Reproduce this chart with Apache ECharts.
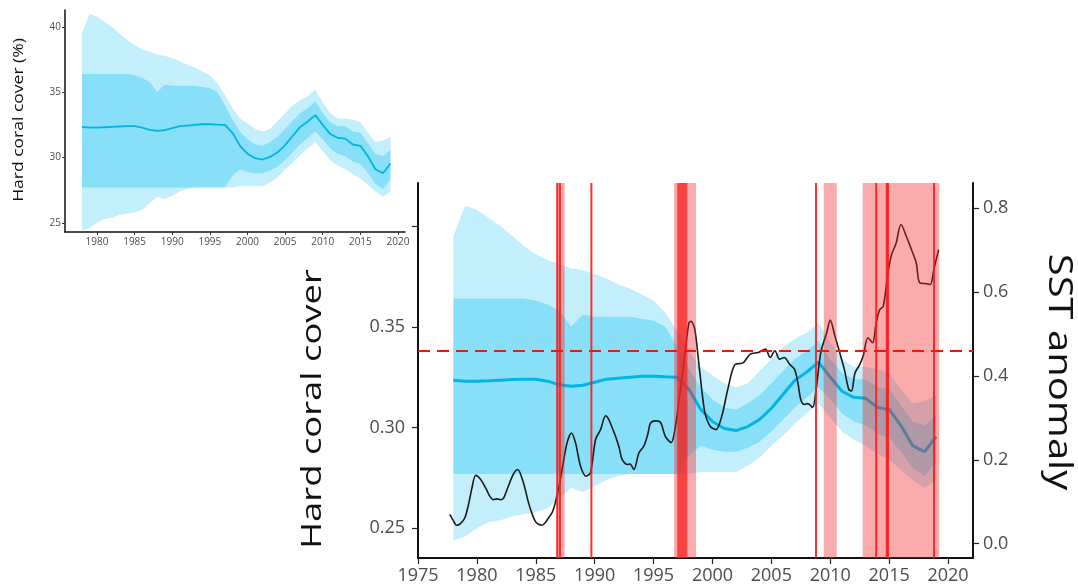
<!DOCTYPE html>
<html><head><meta charset="utf-8">
<script src="https://cdn.jsdelivr.net/npm/echarts@6/dist/echarts.min.js"></script>
<style>html,body{margin:0;padding:0;background:#fff}#c{width:1078px;height:588px}</style>
</head><body><div id="c"></div>
<script>
// ---- data ----
const years = [1978,1979,1980,1981,1982,1983,1984,1985,1986,1987,1988,1989,1990,1991,1992,1993,1994,1995,1996,1997,1998,1999,2000,2001,2002,2003,2004,2005,2006,2007,2008,2009,2010,2011,2012,2013,2014,2015,2016,2017,2018,2019];
const coralMean = [32.35,32.30,32.30,32.32,32.35,32.38,32.40,32.40,32.30,32.12,32.05,32.10,32.25,32.40,32.45,32.50,32.55,32.55,32.52,32.50,31.90,30.90,30.30,29.95,29.85,30.05,30.40,30.95,31.65,32.35,32.75,33.25,32.50,31.80,31.50,31.45,31.00,30.90,30.10,29.10,28.80,29.55];
const outerHi = [39.5,41.0,40.8,40.4,40.0,39.5,39.0,38.6,38.3,38.1,37.9,37.8,37.6,37.4,37.1,36.9,36.6,36.3,35.7,34.8,33.8,33.0,32.6,32.2,32.0,32.2,32.8,33.4,34.0,34.4,34.7,35.2,34.2,33.4,33.0,33.0,32.9,32.7,31.9,31.2,31.3,31.6];
const outerLo = [24.4,24.6,25.0,25.3,25.4,25.6,25.7,25.8,26.0,26.5,27.0,26.8,27.1,27.4,27.6,27.7,27.7,27.7,27.7,27.7,27.7,27.8,27.8,27.8,27.8,28.1,28.5,29.1,29.6,30.2,30.7,31.2,30.5,29.8,29.4,29.1,28.7,28.4,27.9,27.4,27.0,27.4];
const innerHi = [36.4,36.4,36.4,36.4,36.4,36.4,36.4,36.3,36.1,35.8,35.0,35.6,35.5,35.5,35.5,35.5,35.4,35.3,35.0,34.0,32.9,32.0,31.4,31.0,30.9,31.2,31.6,32.2,32.8,33.4,33.8,34.3,33.4,32.7,32.4,32.4,32.0,31.9,31.1,30.3,30.1,30.6];
const innerLo = [27.7,27.7,27.7,27.7,27.7,27.7,27.7,27.7,27.7,27.7,27.7,27.7,27.7,27.7,27.7,27.7,27.7,27.7,27.7,27.7,28.6,29.1,28.9,28.8,28.8,29.0,29.3,29.8,30.4,31.0,31.5,32.0,31.4,30.7,30.3,30.1,29.7,29.5,28.8,28.0,27.6,28.3];

const sstYears = [1977.70,1978.0,1978.27,1978.6,1978.98,1979.3,1979.55,1979.89,1980.1,1980.4,1980.8,1981.1,1981.4,1981.68,1982.0,1982.25,1982.67,1983.1,1983.47,1983.81,1984.1,1984.38,1984.7,1984.95,1985.2,1985.52,1985.8,1986.09,1986.4,1986.66,1987.0,1987.23,1987.66,1988.03,1988.37,1988.8,1989.28,1989.65,1990.08,1990.5,1990.93,1991.2,1991.5,1991.77,1992.07,1992.33,1992.76,1993.0,1993.33,1993.76,1994.18,1994.5,1994.75,1995.18,1995.6,1996.0,1996.5,1996.9,1997.2,1997.5,1998.0,1998.2,1998.5,1998.9,1999.35,1999.8,2000.3,2000.8,2001.3,2001.9,2002.6,2003.2,2003.9,2004.5,2004.9,2005.3,2005.7,2006.1,2006.55,2006.97,2007.25,2007.5,2007.8,2008.1,2008.5,2008.8,2009.2,2009.7,2010.0,2010.4,2010.8,2011.2,2011.57,2011.8,2012.1,2012.5,2012.8,2013.2,2013.6,2013.9,2014.2,2014.5,2014.9,2015.2,2015.6,2016.0,2016.5,2016.9,2017.3,2017.6,2018.2,2018.5,2018.8,2019.2];
const sstValues = [0.070,0.055,0.044,0.048,0.062,0.095,0.129,0.163,0.160,0.150,0.130,0.113,0.105,0.107,0.105,0.108,0.137,0.166,0.177,0.158,0.130,0.098,0.070,0.054,0.047,0.044,0.050,0.062,0.075,0.098,0.140,0.177,0.241,0.264,0.241,0.185,0.161,0.170,0.249,0.272,0.305,0.296,0.276,0.256,0.230,0.201,0.189,0.190,0.177,0.217,0.233,0.260,0.288,0.293,0.289,0.256,0.241,0.288,0.350,0.415,0.527,0.530,0.511,0.415,0.313,0.280,0.272,0.305,0.368,0.427,0.431,0.452,0.456,0.464,0.444,0.460,0.440,0.444,0.428,0.416,0.384,0.344,0.332,0.334,0.325,0.368,0.456,0.503,0.533,0.495,0.456,0.415,0.368,0.364,0.407,0.427,0.448,0.491,0.479,0.527,0.558,0.566,0.646,0.689,0.717,0.761,0.730,0.701,0.670,0.622,0.620,0.618,0.654,0.701];

const sstThreshold = 0.46;
const eventSpans = [[1986.78,1987.45],[1996.74,1998.60],[1996.98,1997.90],[1997.02,1997.85],[1997.05,1997.80],[2009.45,2010.55],[2012.75,2019.25]];
const eventLines = [1986.82,1987.05,1989.72,2008.79,2013.90,2014.80,2014.90,2018.81];

const mainXTicks = [1975,1980,1985,1990,1995,2000,2005,2010,2015,2020];
const mainCoverTicks = [25,30,35,40];
const mainCoverLabels = [25,30,35];
const sstTicks = [0,0.2,0.4,0.6,0.8];
const insetXTicks = [1980,1985,1990,1995,2000,2005,2010,2015,2020];
const insetYTicks = [25,30,35,40];

// ---- chart ----
const chart = echarts.init(document.getElementById('c'), null, {renderer:'canvas'});
const FONT = '"Open Sans", "Noto Sans", sans-serif';
const GREY = '#4d4d4d';

function bandSeries(xi, yi, hi, lo, color, z){
  return {type:'custom', xAxisIndex:xi, yAxisIndex:yi, z:z, silent:true, clip:true,
    data:[[years[0], lo[0]]],
    renderItem:function(params, api){
      const pts=[];
      for(let i=0;i<years.length;i++) pts.push(api.coord([years[i], hi[i]]));
      for(let i=years.length-1;i>=0;i--) pts.push(api.coord([years[i], lo[i]]));
      return {type:'polygon', shape:{points:pts}, style:{fill:color}};
    }};
}
const sstData = sstYears.map((y,i)=>[y, sstValues[i]]);
const meanData = years.map((y,i)=>[y, coralMean[i]]);

const OUTER = 'rgba(0,188,238,0.24)';
const INNER = 'rgba(0,188,238,0.30)';

const option = {
  animation:false,
  backgroundColor:'#fff',
  grid:[
    {left:418, right:105, top:183, bottom:30, containLabel:false},
    {left:65, top:10, width:340, height:222, containLabel:false}
  ],
  xAxis:[
    {type:'value', gridIndex:0, min:1975, max:2022.12, splitLine:{show:false},
     axisLine:{show:true, onZero:false, lineStyle:{color:'#111', width:2}},
     axisTick:{show:true, length:6, customValues:mainXTicks, lineStyle:{color:'#222', width:1.2}},
     axisLabel:{customValues:mainXTicks, color:GREY, fontSize:18, fontFamily:FONT, margin:9, formatter:v=>String(v)}},
    {type:'value', gridIndex:1, min:1975.75, max:2020.93, splitLine:{show:false},
     axisLine:{show:true, onZero:false, lineStyle:{color:'#111', width:1.5}},
     axisTick:{show:true, length:3, customValues:insetXTicks, lineStyle:{color:'#333', width:1}},
     axisLabel:{customValues:insetXTicks, color:GREY, fontSize:10, fontFamily:FONT, margin:5, formatter:v=>String(v)}}
  ],
  yAxis:[
    {type:'value', gridIndex:0, position:'left', min:23.53, max:42.13, splitLine:{show:false},
     axisLine:{show:true, onZero:false, lineStyle:{color:'#111', width:2}},
     axisTick:{show:true, length:6, customValues:mainCoverTicks, lineStyle:{color:'#222', width:1.2}},
     axisLabel:{customValues:mainCoverLabels, color:GREY, fontSize:18, fontFamily:FONT, margin:13, formatter:v=>(v/100).toFixed(2)}},
    {type:'value', gridIndex:0, position:'right', min:-0.034, max:0.86, splitLine:{show:false},
     axisLine:{show:true, onZero:false, lineStyle:{color:'#111', width:2}},
     axisTick:{show:true, length:6, customValues:sstTicks, lineStyle:{color:'#222', width:1.2}},
     axisLabel:{customValues:sstTicks, color:GREY, fontSize:18, fontFamily:FONT, margin:10, formatter:v=>v.toFixed(1)}},
    {type:'value', gridIndex:1, position:'left', min:24.3, max:41.3, splitLine:{show:false},
     axisLine:{show:true, onZero:false, lineStyle:{color:'#111', width:1.5}},
     axisTick:{show:true, length:3, customValues:insetYTicks, lineStyle:{color:'#333', width:1}},
     axisLabel:{customValues:insetYTicks, color:GREY, fontSize:10, fontFamily:FONT, margin:4, formatter:v=>String(v)}}
  ],
  series:[
    bandSeries(0,0,outerHi,outerLo,OUTER,1),
    bandSeries(0,0,innerHi,innerLo,INNER,1),
    {type:'line', xAxisIndex:0, yAxisIndex:0, z:2, data:meanData, showSymbol:false, silent:true,
     lineStyle:{color:'#00B4E4', width:3}},
    {type:'line', xAxisIndex:0, yAxisIndex:1, z:3, data:sstData, showSymbol:false, silent:true, smooth:0.3,
     lineStyle:{color:'#1a1a1a', width:1.6},
     markLine:{silent:true, symbol:'none', z:20, label:{show:false},
       lineStyle:{color:'#ff1010', type:[12,7], width:1.9, opacity:1},
       data:[{yAxis:sstThreshold}]}},
    {type:'custom', xAxisIndex:0, yAxisIndex:0, z:10, silent:true, data:eventSpans,
     renderItem:function(params, api){
       const cs=params.coordSys;
       const a=api.coord([api.value(0),30])[0], b=api.coord([api.value(1),30])[0];
       return {type:'rect', shape:{x:a, y:cs.y, width:b-a, height:cs.height}, style:{fill:'rgba(245,35,35,0.38)'}};
     }},
    {type:'custom', xAxisIndex:0, yAxisIndex:0, z:11, silent:true, data:eventLines.map(v=>[v,30]),
     renderItem:function(params, api){
       const cs=params.coordSys;
       const a=api.coord([api.value(0),30])[0];
       return {type:'rect', shape:{x:a-1, y:cs.y, width:2, height:cs.height}, style:{fill:'rgba(255,25,25,0.9)'}};
     }},
    bandSeries(1,2,outerHi,outerLo,OUTER,1),
    bandSeries(1,2,innerHi,innerLo,INNER,1),
    {type:'line', xAxisIndex:1, yAxisIndex:2, z:2, data:meanData, showSymbol:false, silent:true,
     lineStyle:{color:'#00B4E4', width:1.8}}
  ],
  graphic:[
    {type:'text', x:313, y:409, rotation:Math.PI/2, scaleX:1.3, silent:true,
     style:{text:'Hard coral cover', fontSize:28, fontFamily:FONT, fill:'#111', align:'center', verticalAlign:'middle'}},
    {type:'text', x:1058, y:372, rotation:-Math.PI/2, scaleX:1.25, silent:true,
     style:{text:'SST anomaly', fontSize:32, fontFamily:FONT, fill:'#111', align:'center', verticalAlign:'middle'}},
    {type:'text', x:19, y:120, rotation:Math.PI/2, scaleX:1.25, silent:true,
     style:{text:'Hard coral cover (%)', fontSize:14, fontFamily:FONT, fill:'#111', align:'center', verticalAlign:'middle'}}
  ]
};
chart.setOption(option);
</script>
</body></html>
